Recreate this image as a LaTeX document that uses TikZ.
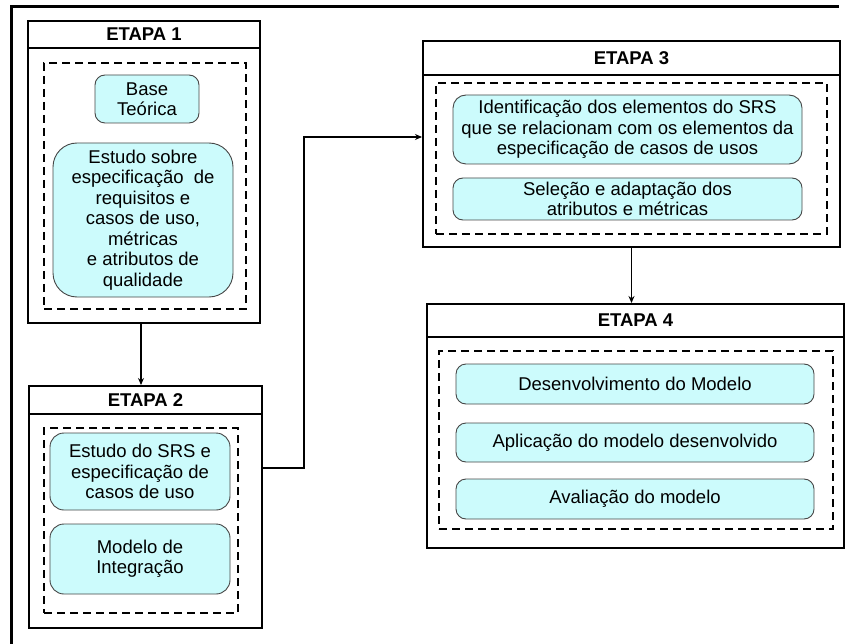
\documentclass[tikz,border=0pt]{standalone}
\usepackage{fontspec}
\setmainfont{Liberation Sans}
\usetikzlibrary{arrows.meta,calc}
\definecolor{boxfill}{RGB}{204,251,252}
\definecolor{boxline}{RGB}{70,70,70}
\begin{document}
\begin{tikzpicture}[x=1pt,y=-1pt,
  every node/.style={font=\fontsize{18.5}{20.5}\selectfont},
  stage/.style={draw=black,line width=2pt,inner sep=0pt,anchor=north west},
  stagehead/.style={draw=black,line width=2pt,inner sep=0pt,anchor=north,font=\fontsize{18.5}{20.5}\selectfont\bfseries},
  dbox/.style={draw=black,line width=2pt,dash pattern=on 8pt off 5pt,inner sep=0pt,anchor=north west},
  ibox/.style={draw=boxline,line width=0.9pt,fill=boxfill,rounded corners=10pt,align=center,inner sep=0pt},
  arr/.style={draw=black,line width=1.5pt,-{Stealth[length=7pt,width=6pt]}}
]
\useasboundingbox (0,0) rectangle (848,644);
% outer frame
\coordinate (fbl) at (11.5,644);
\coordinate (ftl) at (11.5,6.5);
\coordinate (ftr) at (839,6.5);
\draw[line width=3pt] (fbl) -- (ftl) -- (ftr);

% ETAPA 1
\node (e1) [stage,minimum width=232,minimum height=302] at (27,20) {};
\node (e1h) [stagehead,minimum width=232,minimum height=27] at (e1.north) {ETAPA 1};
\node (d1) [dbox,minimum width=202,minimum height=246] at (43,62) {};
\node (base) [ibox,minimum width=104,minimum height=48] at (147,99) {Base\\Teórica};
\node (estudo) [ibox,rounded corners=24pt,minimum width=180,minimum height=154] at (143,220)
  {Estudo sobre\\especificação~ de\\requisitos e\\casos de uso,\\métricas\\e atributos de\\qualidade};

% ETAPA 2
\node (e2) [stage,minimum width=233,minimum height=242] at (28,385) {};
\node (e2h) [stagehead,minimum width=233,minimum height=28] at (e2.north) {ETAPA 2};
\node (d2) [dbox,minimum width=194,minimum height=185] at (43,427) {};
\node (srs) [ibox,rounded corners=14pt,minimum width=180,minimum height=77] at (140,471.5)
  {Estudo do SRS e\\especificação de\\casos de uso};
\node (modelo) [ibox,rounded corners=14pt,minimum width=180,minimum height=70] at (140,559)
  {Modelo de\\Integração};

% ETAPA 3
\node (e3) [stage,minimum width=417,minimum height=206] at (422,40) {};
\node (e3h) [stagehead,minimum width=417,minimum height=34] at (e3.north) {ETAPA 3};
\node (d3) [dbox,minimum width=391,minimum height=151] at (435,82) {};
\node (b31) [ibox,rounded corners=13pt,minimum width=349,minimum height=69] at (627.5,129.5)
  {Identificação dos elementos do SRS\\que se relacionam com os elementos da\\especificação de casos de usos};
\node (b32) [ibox,minimum width=349,minimum height=42] at (627.5,199)
  {Seleção e adaptação dos\\atributos e métricas};

% ETAPA 4
\node (e4) [stage,minimum width=417,minimum height=244] at (426,303) {};
\node (e4h) [stagehead,minimum width=417,minimum height=33] at (e4.north) {ETAPA 4};
\node (d4) [dbox,minimum width=394,minimum height=178] at (438,350) {};
\node (b41) [ibox,minimum width=358,minimum height=40] at (635,384) {Desenvolvimento do Modelo};
\node (b42) [ibox,minimum width=358,minimum height=39] at (635,442.5) {Aplicação do modelo desenvolvido};
\node (b43) [ibox,minimum width=358,minimum height=40] at (635,499) {Avaliação do modelo};

% connectors
\draw[arr] ([xshift=-3pt]e1.south) -- ([xshift=-3pt]e1.south |- e2.north);
\coordinate (bend) at (304,137);
\draw[arr] (e2.north east |- 0,468) -| (bend) -- (e3.west |- bend);
\draw[arr] (e3.south) -- (e3.south |- e4.north);
\end{tikzpicture}
\end{document}
